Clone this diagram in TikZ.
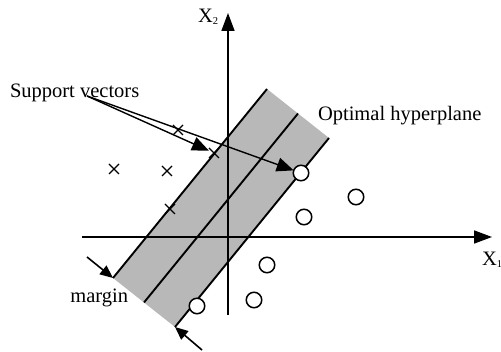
\documentclass[tikz,border=0pt]{standalone}
\usepackage{fontspec}
\setmainfont{Liberation Serif}
\usetikzlibrary{arrows.meta,shapes.misc}
\begin{document}
\begin{tikzpicture}[x=1pt,y=-1pt,
  lbl/.style={inner sep=0, outer sep=0, font=\fontsize{20.5}{24}\selectfont},
  xmark/.style={cross out, draw, line width=1.3pt, minimum size=10pt, inner sep=0, outer sep=0},
  omark/.style={circle, draw, line width=1.5pt, fill=white, minimum size=15.5pt, inner sep=0, outer sep=0},
  axisline/.style={line width=1.6pt, -{Triangle[length=18pt,width=13pt]}},
  bandline/.style={line width=1.9pt},
  ptr/.style={line width=1.4pt, -{Triangle[length=17pt,width=14pt]}},
  marg/.style={line width=1.6pt, -{Triangle[length=13pt,width=11pt]}},
  bandfill/.style={fill=black!28, draw=none}]
\useasboundingbox (0,0) rectangle (501,352);
% band corners
\coordinate (A) at (113,278);
\coordinate (B) at (267,89);
\coordinate (C) at (175,327);
\coordinate (D) at (329,138);
\coordinate (M1) at (144,302.5);
\coordinate (M2) at (298,113.5);
\fill[bandfill] (A) -- (B) -- (D) -- (C) -- cycle;
% axes
\coordinate (xs) at (82,237);
\coordinate (xe) at (492,237);
\coordinate (ys) at (228,315);
\coordinate (ye) at (228,13);
\draw[axisline] (xs) -- (xe);
\draw[axisline] (ys) -- (ye);
% band lines
\draw[bandline] (A) -- (B);
\draw[bandline] (M1) -- (M2);
\draw[bandline] (C) -- (D);
% crosses
\node[xmark] (x1) at (114,169) {};
\node[xmark] (x2) at (167,171) {};
\node[xmark] (x3) at (170,209) {};
\node[xmark] (x4) at (178,130) {};
\node[xmark] (x5) at (214,153) {};
% circles
\node[omark] (o1) at (301,173) {};
\node[omark] (o2) at (356,197) {};
\node[omark] (o3) at (304,217) {};
\node[omark] (o4) at (267,265) {};
\node[omark] (o5) at (254,300) {};
\node[omark] (o6) at (197,306) {};
% labels
\node[lbl, anchor=base west] (sv) at (10,98) {Support vectors};
\node[lbl, anchor=base west] (oh) at (318,121) {Optimal hyperplane};
\node[lbl, anchor=base east] (mg) at (128,303) {margin};
\node[lbl, anchor=base west] (lx2) at (198,23) {X\raisebox{-1.5pt}{\fontsize{10.5}{11}\selectfont 2}};
\node[lbl, anchor=base west] (lx1) at (482,266) {X\raisebox{-1.5pt}{\fontsize{10.5}{11}\selectfont 1}};
% pointers
\coordinate (svp) at (87,96);
\draw[ptr] (svp) -- (x5);
\draw[ptr] (svp) -- (o1);
% margin arrows
\coordinate (m1s) at (87,257);
\coordinate (m2s) at (202,350);
\draw[marg] (m1s) -- (A);
\draw[marg] (m2s) -- (C);
\end{tikzpicture}
\end{document}
